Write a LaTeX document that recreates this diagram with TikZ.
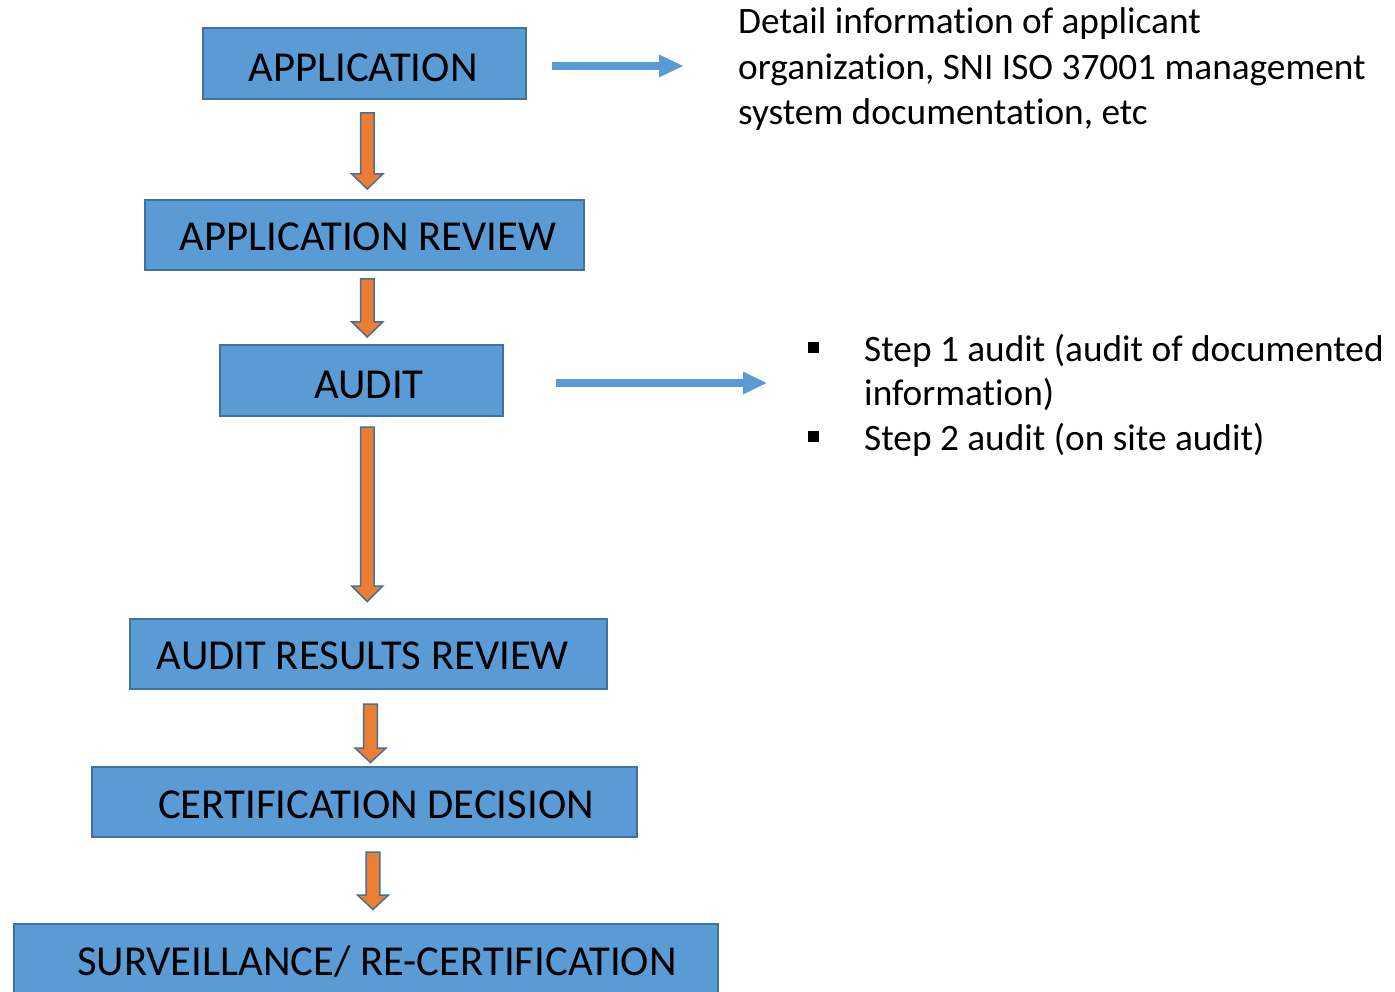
\documentclass[tikz,border=0pt]{standalone}
\usepackage{fontspec}
\setmainfont{Carlito}[Ligatures={NoCommon}]
\usetikzlibrary{calc}
\definecolor{boxblue}{HTML}{5B9BD5}
\definecolor{edgeblue}{HTML}{41719C}
\definecolor{arrorange}{HTML}{ED7D31}
\tikzset{
  box/.style={draw=edgeblue, fill=boxblue, line width=1.6pt, inner sep=0pt},
  boxtext/.style={anchor=base, font=\fontsize{42.7}{42.7}\selectfont, inner sep=0pt, text=black},
  sidetext/.style={anchor=base west, font=\fontsize{37.3}{37.3}\selectfont, inner sep=0pt, text=black},
  downarrow/.style={draw=edgeblue, fill=arrorange, line width=1.5pt, line join=miter},
  rightarrow/.style={fill=boxblue, draw=none},
  bulletsq/.style={fill=black, draw=none, minimum size=11pt, inner sep=0pt}
}
% block arrow pointing down: centre x, top y, head start y, tip y
\newcommand\dnarrow[4]{%
  \draw[downarrow] (#1-6.8,#2) -- (#1+6.8,#2) -- (#1+6.8,#3) -- (#1+15.5,#3)
    -- (#1,#4) -- (#1-15.5,#3) -- (#1-6.8,#3) -- cycle;}
% flat arrow pointing right: start x, y, head base x, tip x
\newcommand\rtarrow[4]{%
  \fill[rightarrow] (#1,#2-3.9) -- (#3,#2-3.9) -- (#3,#2-11.5) -- (#4,#2)
    -- (#3,#2+11.5) -- (#3,#2+3.9) -- (#1,#2+3.9) -- cycle;}
\begin{document}
\begin{tikzpicture}[x=1pt,y=-1pt]
\useasboundingbox (0,0) rectangle (1395,992);
\fill[white] (0,0) rectangle (1395,992);

% boxes
\node[box, minimum width=323pt, minimum height=71pt] (app) at (364.5,63.5) {};
\node[box, minimum width=439pt, minimum height=70pt] (rev) at (364.5,235) {};
\node[box, minimum width=283pt, minimum height=71pt] (aud) at (361.5,380.5) {};
\node[box, minimum width=477pt, minimum height=70pt] (res) at (368.5,654) {};
\node[box, minimum width=545pt, minimum height=70pt] (dec) at (364.5,802) {};
\node[box, minimum width=704pt, minimum height=90pt] (sur) at (366,969) {};

% box texts
\node[boxtext] (tapp) at (363,82) {APPLICATION};
\node[boxtext] (trev) at (368,251) {APPLICATION REVIEW};
\node[boxtext] (taud) at (369,398) {AUDIT};
\node[boxtext] (tres) at (363,669) {AUDIT RESULTS REVIEW};
\node[boxtext] (tdec) at (376,818) {CERTIFICATION DECISION};
\node[boxtext] (tsur) at (377,975) {SURVEILLANCE/ RE-CERTIFICATION};

% orange block arrows between boxes
\dnarrow{367.3}{113}{174}{189}
\dnarrow{367.3}{279}{322}{337}
\dnarrow{367.3}{427}{586}{601.5}
\dnarrow{370.5}{704}{748}{762.5}
\dnarrow{373}{852}{895}{909.5}

% blue side arrows
\rtarrow{552}{66}{659}{683}
\rtarrow{556}{383}{743}{766.5}

% side texts
\node[sidetext] (d1) at (738,34) {Detail information of applicant};
\node[sidetext] (d2) at (738,80) {organization, SNI ISO 37001 management};
\node[sidetext] (d3) at (738,124.5) {system documentation, etc};

\node[bulletsq] (b1) at (813.5,347.5) {};
\node[bulletsq] (b2) at (813.5,436.5) {};
\node[sidetext] (s1) at (864,361) {Step 1 audit (audit of documented};
\node[sidetext] (s2) at (864,405.5) {information)};
\node[sidetext] (s3) at (864,450) {Step 2 audit (on site audit)};
\end{tikzpicture}
\end{document}
